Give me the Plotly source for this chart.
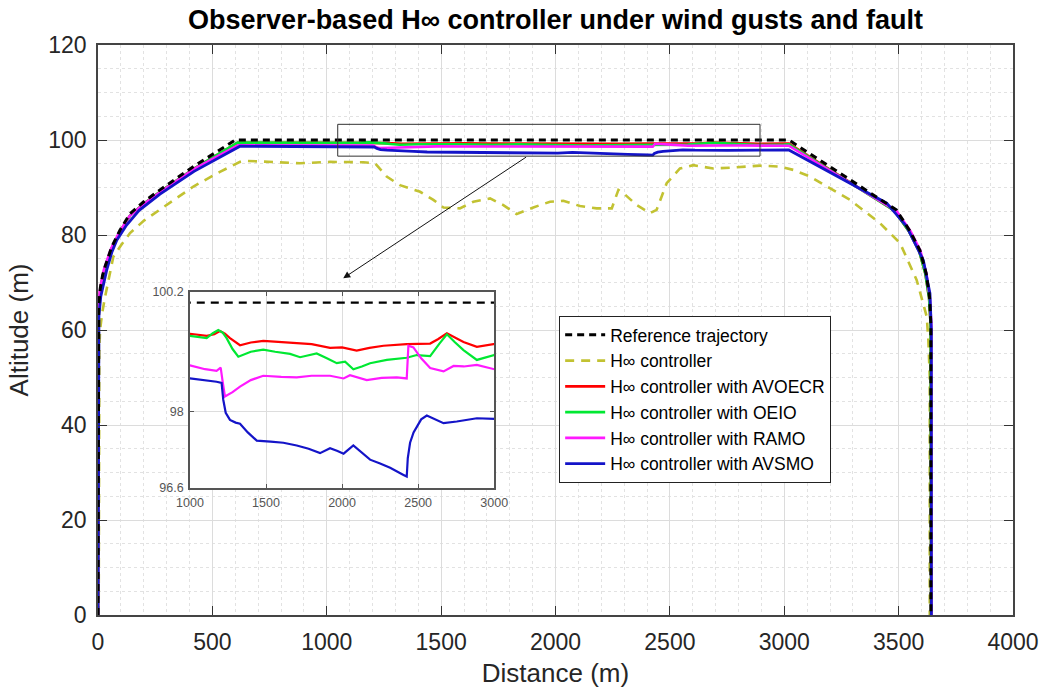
import plotly.graph_objects as go

# ---------------- data ----------------
REF_X = [0, 0, 3, 10, 20, 31, 60, 96, 140, 200, 271, 420, 600, 3020, 3490, 3550, 3593, 3620, 3635, 3641, 3641]
REF_Y = [0, 60, 65, 68.8, 71.5, 73.4, 77.5, 81, 84.5, 87, 89.5, 94.5, 100, 100, 85.3, 80.8, 76.8, 72, 67, 61, 0]

HINF_X = [3, 3, 6, 9, 18, 31, 67, 100, 140, 200, 271, 417, 533, 621, 650, 883, 1014, 1087, 1160, 1211,
          1262, 1320, 1408, 1466, 1510, 1582, 1641, 1714, 1772, 1830, 1903, 1976, 2034, 2107, 2180, 2246,
          2275, 2297, 2355, 2413, 2442, 2486, 2544, 2602, 2690, 2777, 2894, 2981, 3040, 3113, 3287, 3418,
          3506, 3579, 3623, 3630, 3636, 3636]
HINF_Y = [0, 50, 55.8, 60, 63.5, 67, 75.4, 77.8, 80.4, 83, 85.3, 90.2, 93.3, 95.4, 95.6, 95.1, 95.4, 95.4, 95.3, 95.1,
          92.3, 90.5, 89.1, 87.4, 85.8, 85.6, 87.0, 87.7, 86.3, 84.4, 85.8, 87.0, 87.2, 86.1, 85.6, 85.6,
          89.5, 88.8, 86.3, 84.6, 85.3, 90.9, 94.0, 94.7, 94.0, 94.2, 94.6, 94.4, 93.7, 92.3, 87.4, 82.5,
          78.3, 70.5, 62.8, 57.9, 50, 0]

AVOECR_X = [0, 0, 3, 10, 20, 31, 60, 96, 140, 200, 271, 420, 610,
            1000, 1110, 1160, 1197, 1230, 1263, 1329, 1400, 1482, 1600, 1702, 1800, 1921, 2000, 2096, 2180, 2272,
            2425, 2579, 2630, 2689, 2740, 2798, 2886, 3000,
            3020, 3480, 3545, 3590, 3617, 3633, 3640, 3642]
AVOECR_Y = [0, 60, 64.8, 68.5, 71.2, 73.1, 77.2, 80.7, 84.1, 86.6, 89.1, 94.0, 99.4,
            99.43, 99.39, 99.42, 99.48, 99.43, 99.35, 99.22, 99.27, 99.30, 99.28, 99.27, 99.24, 99.17, 99.18, 99.12, 99.17, 99.21,
            99.24, 99.25, 99.33, 99.44, 99.36, 99.28, 99.19, 99.24,
            99.25, 85.2, 80.8, 76.6, 71.8, 66.8, 61, 0]

OEIO_X = [0, 0, 3, 10, 20, 31, 60, 96, 140, 200, 271, 420, 610,
          1000, 1110, 1150, 1186, 1215, 1241, 1280, 1318, 1400, 1482, 1560, 1658, 1724, 1833, 1900, 1965, 2020,
          2074, 2130, 2184, 2294, 2425, 2491, 2579, 2640, 2689, 2740, 2798, 2886, 3000,
          3020, 3480, 3545, 3590, 3617, 3633, 3640, 3642]
OEIO_Y = [0, 60, 64.8, 68.5, 71.2, 73.1, 77.2, 80.7, 84.1, 86.6, 89.1, 94.0, 99.45,
          99.39, 99.35, 99.44, 99.50, 99.45, 99.35, 99.15, 99.01, 99.10, 99.14, 99.10, 99.06, 99.00, 99.07, 98.98, 98.89, 98.92,
          98.78, 98.83, 98.89, 98.95, 98.99, 99.04, 99.02, 99.25, 99.42, 99.28, 99.13, 98.95, 99.04,
          99.1, 85.2, 80.8, 76.6, 71.8, 66.8, 61, 0]

RAMO_X = [0, 0, 2, 8, 16, 25, 55, 92, 138, 200, 271, 420, 612,
          1000, 1100, 1175, 1202, 1215, 1230, 1280, 1329, 1400, 1482, 1600, 1702, 1800, 1921, 2010, 2052, 2162,
          2260, 2360, 2425, 2436, 2469, 2520, 2579, 2667, 2733, 2800, 2886, 3000,
          3020, 3490, 3552, 3595, 3622, 3637, 3643, 3643]
RAMO_Y = [0, 60, 64.8, 68.3, 70.8, 72.6, 76.9, 80.5, 84.0, 86.5, 89.0, 93.9, 98.9,
          98.85, 98.78, 98.75, 98.81, 98.55, 98.28, 98.36, 98.46, 98.58, 98.66, 98.64, 98.63, 98.66, 98.66, 98.61, 98.67, 98.58,
          98.62, 98.63, 98.61, 99.21, 99.18, 98.98, 98.80, 98.74, 98.84, 98.83, 98.86, 98.78,
          98.8, 85.1, 80.8, 76.7, 71.8, 66.5, 61, 0]

AVSMO_X = [0, 1, 4, 12, 25, 38, 60, 82, 125, 180, 271, 420, 621,
           1000, 1100, 1175, 1208, 1219, 1235, 1263, 1300, 1329, 1380, 1439, 1530, 1614, 1702, 1780, 1855, 1921,
           1970, 2010, 2074, 2130, 2184, 2250, 2316, 2404, 2425, 2432, 2447, 2470, 2491, 2520, 2557, 2610, 2667,
           2754, 2886, 3000,
           3020, 3448, 3535, 3608, 3637, 3643, 3643]
AVSMO_Y = [0, 58, 63, 67, 70.2, 72.6, 76.3, 78.9, 82.1, 85.2, 88.6, 93.4, 98.7,
           98.61, 98.58, 98.55, 98.53, 98.22, 97.98, 97.85, 97.80, 97.78, 97.62, 97.47, 97.45, 97.43, 97.38, 97.32, 97.24, 97.33,
           97.28, 97.23, 97.38, 97.25, 97.12, 97.05, 96.97, 96.84, 96.81, 97.15, 97.43, 97.62, 97.73, 97.86, 97.93, 97.86, 97.79,
           97.82, 97.88, 97.87,
           97.9, 86.7, 81.8, 74.7, 67.7, 60, 0]

X_TICKS = [0, 500, 1000, 1500, 2000, 2500, 3000, 3500, 4000]
Y_TICKS = [0, 20, 40, 60, 80, 100, 120]
INSET_X_TICKS = [1000, 1500, 2000, 2500, 3000]
INSET_Y_TICKS = [96.6, 98, 100.2]

NAMES = ["Reference trajectory", "H∞ controller", "H∞ controller with AVOECR",
         "H∞ controller with OEIO", "H∞ controller with RAMO", "H∞ controller with AVSMO"]

FONT = "Liberation Sans, Arial, Helvetica, sans-serif"

series = [
    # name, x, y, color, dash, width, rank
    (NAMES[1], HINF_X, HINF_Y, "#c2c232", "9px,7px", 2.6, 2),
    (NAMES[2], AVOECR_X, AVOECR_Y, "#ff0000", "solid", 2.6, 3),
    (NAMES[3], OEIO_X, OEIO_Y, "#00e832", "solid", 2.6, 4),
    (NAMES[4], RAMO_X, RAMO_Y, "#ff19ff", "solid", 2.6, 5),
    (NAMES[5], AVSMO_X, AVSMO_Y, "#1414c8", "solid", 2.8, 6),
    (NAMES[0], REF_X, REF_Y, "#000000", "7px,5px", 3, 1),
]

fig = go.Figure()
for name, xs, ys, col, dash, w, rank in series:
    fig.add_trace(go.Scatter(x=xs, y=ys, mode="lines", name=name, legendrank=rank,
                             line=dict(color=col, dash=dash, width=w)))
# inset (zoomed) copies, no olive curve in the inset
for name, xs, ys, col, dash, w, rank in series:
    if name == NAMES[1]:
        continue
    d = "8px,6px" if name == NAMES[0] else "solid"
    fig.add_trace(go.Scatter(x=xs, y=ys, mode="lines", name=name, showlegend=False,
                             xaxis="x2", yaxis="y2", line=dict(color=col, dash=d, width=2.2)))

grid_major = "#dcdcdc"
grid_minor = "#e2e2e2"

fig.update_layout(
    width=1054, height=688,
    margin=dict(l=98, r=41, t=45, b=73, autoexpand=False),
    paper_bgcolor="white", plot_bgcolor="white",
    font=dict(family=FONT, color="#262626"),
    title=dict(text="<b>Observer-based H∞ controller under wind gusts and fault</b>",
               x=0.5, xref="paper", xanchor="center", y=1 - 20 / 688, yref="container", yanchor="middle",
               font=dict(size=27, color="#000000", family=FONT)),
    xaxis=dict(range=[0, 4000], tickvals=X_TICKS, ticks="inside", ticklen=9, tickcolor="#333",
               showline=True, linecolor="#444", linewidth=1.5, mirror="ticks", automargin=False,
               showgrid=True, gridcolor=grid_major, gridwidth=1, zeroline=False,
               minor=dict(dtick=100, showgrid=True, gridcolor=grid_minor, griddash="dot", ticks=""),
               tickfont=dict(size=23, color="#262626"), ticklabelstandoff=6,
               title=dict(text="Distance (m)", font=dict(size=26, color="#262626"), standoff=14)),
    yaxis=dict(range=[0, 120], tickvals=Y_TICKS, ticks="inside", ticklen=9, tickcolor="#333",
               showline=True, linecolor="#444", linewidth=1.5, mirror="ticks", automargin=False,
               showgrid=True, gridcolor=grid_major, gridwidth=1, zeroline=False,
               minor=dict(dtick=5, showgrid=True, gridcolor=grid_minor, griddash="dot", ticks=""),
               tickfont=dict(size=23, color="#262626"), ticklabelstandoff=5,
               title=dict(text="Altitude (m)", font=dict(size=26, color="#262626"), standoff=12)),
    xaxis2=dict(domain=[0.1005, 0.433], anchor="y2", range=[1000, 3000], tickvals=INSET_X_TICKS,
                ticks="inside", ticklen=4, tickcolor="#555", showline=True, linecolor="#555", linewidth=1.5,
                mirror="ticks", showgrid=True, gridcolor="#dddddd", zeroline=False, automargin=False,
                tickfont=dict(size=12.5, color="#555"), ticklabelstandoff=2),
    yaxis2=dict(domain=[0.2228, 0.567], anchor="x2", range=[96.6, 100.2], tickvals=INSET_Y_TICKS,
                ticktext=["96.6", "98", "100.2"], automargin=False,
                ticks="inside", ticklen=4, tickcolor="#555", showline=True, linecolor="#555", linewidth=1.5,
                mirror="ticks", showgrid=True, gridcolor="#dddddd", zeroline=False,
                tickfont=dict(size=12.5, color="#555"), ticklabelstandoff=2),
    legend=dict(x=0.504, y=0.5246, xanchor="left", yanchor="top", bgcolor="white",
                bordercolor="#222", borderwidth=1, itemwidth=40,
                font=dict(size=17.5, color="#000000", family=FONT), tracegroupgap=0),
    showlegend=True,
)

# white background of inset (covers main grid)
fig.add_shape(type="rect", xref="x2", yref="y2", x0=1000, x1=3000, y0=96.6, y1=100.2,
              fillcolor="white", line=dict(width=0), layer="below")
# zoom box on the main axes
fig.add_shape(type="rect", xref="x", yref="y", x0=1048, x1=2894, y0=96.6, y1=103.3,
              line=dict(color="#333", width=1), layer="above")
# arrow from zoom box to inset
fig.add_annotation(x=1072, y=70.9, ax=1878, ay=96.6, xref="x", yref="y", axref="x", ayref="y",
                   showarrow=True, arrowhead=2, arrowsize=1.4, arrowwidth=1, arrowcolor="#111", text="")

fig.write_html("out.html")
